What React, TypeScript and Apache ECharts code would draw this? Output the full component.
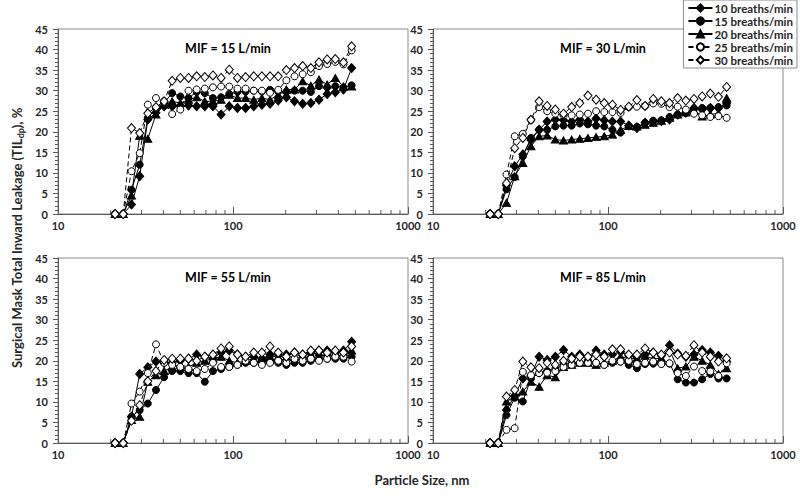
import React, { useEffect, useRef } from "react";
import * as echarts from "echarts";

// Particle sizes (nm), one per SMPS channel
const sizes = [21.2, 23.6, 26.3, 29.3, 32.6, 36.3, 40.4, 44.9, 50.0, 55.7, 62.0, 69.0, 76.8, 85.5, 95.2, 106.0, 118.0, 131.4, 146.3, 162.8, 181.3, 201.8, 224.7, 250.1, 278.5, 310.0, 345.2, 384.3, 427.8, 476.3];

// minor tick positions on the log axis
const minorTickSizes = [20, 30, 40, 50, 60, 70, 80, 90, 200, 300, 400, 500, 600, 700, 800, 900];

const breathNames = ["10 breaths/min", "15 breaths/min", "20 breaths/min", "25 breaths/min", "30 breaths/min"];
const panelTitles = ["MIF = 15 L/min", "MIF = 30 L/min", "MIF = 55 L/min", "MIF = 85 L/min"];

// MIF = 15 L/min
const mif15_b10 = [0, 0, 2.3, 9.2, 23.0, 24.6, 26.2, 26.2, 26.2, 26.4, 26.2, 26.2, 26.2, 24.2, 26.2, 25.8, 25.8, 26.2, 26.6, 26.8, 27.6, 28.4, 27.4, 26.8, 27.0, 27.8, 29.2, 29.6, 30.3, 35.5];
const mif15_b15 = [0, 0, 5.9, 12.0, 23.4, 25.8, 27.0, 29.4, 28.6, 28.2, 29.7, 29.4, 28.2, 28.4, 29.2, 29.7, 29.8, 30.0, 29.8, 30.2, 29.8, 29.7, 30.0, 30.0, 29.7, 31.1, 30.8, 31.1, 30.8, 31.3];
const mif15_b20 = [0, 0, 4.5, 19.0, 18.3, 24.2, 26.6, 27.4, 27.0, 27.8, 28.4, 27.4, 27.4, 27.8, 29.0, 28.2, 28.2, 27.8, 28.2, 27.8, 29.0, 30.3, 30.3, 32.3, 31.2, 32.7, 31.5, 33.1, 31.0, 31.0];
const mif15_b25 = [0, 0, 10.4, 14.8, 26.6, 28.2, 27.4, 24.3, 25.4, 30.0, 30.3, 30.5, 30.8, 31.0, 31.0, 30.5, 30.5, 30.0, 30.0, 29.5, 30.2, 32.5, 33.5, 34.0, 34.5, 36.0, 36.5, 37.0, 36.4, 39.8];
const mif15_b30 = [0, 0, 20.9, 19.7, 24.5, 26.0, 27.4, 32.4, 33.1, 33.1, 33.5, 33.3, 33.7, 33.1, 35.1, 33.1, 33.3, 33.5, 33.5, 33.5, 33.5, 35.0, 35.5, 36.0, 35.5, 36.9, 37.6, 37.7, 36.9, 40.8];

// MIF = 30 L/min
const mif30_b10 = [0, 0, 7.0, 11.6, 14.5, 18.0, 20.5, 22.5, 23.0, 22.8, 22.5, 23.0, 22.5, 23.2, 22.8, 22.5, 22.5, 21.5, 20.9, 22.2, 22.4, 22.6, 23.0, 24.2, 24.6, 25.8, 25.4, 25.8, 25.8, 27.0];
const mif30_b15 = [0, 0, 6.0, 9.0, 14.0, 18.5, 20.5, 20.5, 21.3, 21.5, 21.5, 22.0, 21.8, 21.5, 21.3, 20.5, 19.8, 21.4, 21.2, 22.2, 22.7, 22.8, 23.6, 24.2, 24.6, 25.6, 25.8, 25.8, 26.0, 26.4];
const mif30_b20 = [0, 0, 2.7, 9.2, 12.4, 16.5, 18.9, 19.1, 18.1, 17.9, 18.1, 18.3, 18.5, 18.7, 18.9, 19.3, 20.5, 21.4, 21.3, 21.7, 22.2, 22.7, 23.4, 24.2, 24.7, 25.2, 23.7, 24.2, 24.5, 28.2];
const mif30_b25 = [0, 0, 9.6, 18.9, 19.5, 22.9, 26.0, 25.0, 24.4, 24.0, 24.0, 24.2, 24.4, 25.0, 24.8, 24.8, 24.6, 26.0, 26.1, 26.3, 26.9, 26.8, 26.0, 26.1, 25.4, 24.4, 24.0, 23.6, 23.8, 23.4];
const mif30_b30 = [0, 0, 7.5, 16.0, 18.5, 22.9, 27.4, 26.3, 25.4, 24.4, 26.0, 27.0, 28.8, 27.8, 27.0, 26.6, 25.3, 26.1, 27.7, 26.3, 28.0, 27.4, 27.0, 28.2, 27.6, 28.0, 28.6, 29.3, 28.5, 30.9];

// MIF = 55 L/min
const mif55_b10 = [0, 0, 6.4, 16.8, 18.4, 19.8, 19.5, 19.5, 20.0, 20.5, 21.5, 21.0, 20.5, 22.0, 22.5, 21.5, 21.0, 21.0, 20.5, 21.5, 21.5, 21.5, 22.0, 21.5, 22.0, 22.5, 22.5, 22.0, 22.5, 24.6];
const mif55_b15 = [0, 0, 6.4, 8.0, 9.6, 12.9, 16.0, 17.5, 17.5, 17.0, 17.0, 14.9, 17.5, 18.0, 18.5, 19.0, 19.5, 19.5, 20.0, 20.0, 19.5, 19.0, 19.5, 19.5, 20.0, 20.5, 20.5, 20.5, 20.5, 21.0];
const mif55_b20 = [0, 0, 5.6, 6.4, 14.9, 16.5, 17.5, 18.5, 19.0, 18.5, 19.5, 20.0, 20.5, 21.0, 20.0, 19.5, 20.0, 20.5, 20.5, 21.0, 21.0, 21.0, 21.0, 21.5, 21.5, 22.0, 22.0, 22.0, 22.0, 22.5];
const mif55_b25 = [0, 0, 9.6, 12.5, 17.0, 24.0, 19.5, 19.0, 18.5, 18.0, 17.5, 18.0, 19.5, 18.5, 18.5, 19.0, 20.0, 19.5, 19.0, 19.5, 20.0, 19.5, 20.5, 20.0, 20.5, 20.0, 20.5, 21.0, 21.0, 19.8];
const mif55_b30 = [0, 0, 5.4, 9.2, 15.0, 17.5, 20.2, 20.5, 20.5, 20.5, 20.0, 21.0, 21.5, 23.0, 23.5, 21.5, 21.0, 22.0, 22.0, 23.5, 22.0, 21.0, 22.0, 21.5, 22.5, 22.5, 22.0, 22.5, 22.0, 23.5];

// MIF = 85 L/min
const mif85_b10 = [0, 0, 8.0, 11.5, 15.7, 16.5, 21.0, 20.2, 21.0, 22.6, 21.0, 21.5, 21.0, 22.5, 21.5, 21.5, 22.2, 21.2, 21.0, 21.5, 22.0, 21.2, 23.8, 21.8, 21.0, 21.5, 22.6, 22.0, 21.2, 19.8];
const mif85_b15 = [0, 0, 6.8, 11.0, 10.1, 15.7, 17.0, 17.5, 18.0, 19.0, 19.5, 19.5, 20.0, 19.5, 19.0, 19.5, 19.8, 19.0, 18.2, 19.2, 19.3, 19.3, 19.3, 15.5, 14.7, 14.7, 15.5, 16.8, 15.7, 15.7];
const mif85_b20 = [0, 0, 10.1, 11.3, 12.5, 14.9, 13.7, 16.5, 16.0, 18.5, 19.0, 19.5, 19.5, 19.0, 19.5, 20.0, 21.0, 20.5, 20.6, 21.2, 20.5, 20.6, 22.6, 18.2, 18.6, 21.0, 20.0, 19.0, 16.8, 18.2];
const mif85_b25 = [0, 0, 3.2, 3.6, 17.3, 16.5, 17.0, 17.1, 17.5, 18.5, 19.0, 19.5, 19.5, 19.5, 19.0, 20.0, 19.8, 20.0, 19.2, 19.5, 19.8, 19.2, 19.4, 17.0, 16.3, 18.6, 17.5, 17.4, 16.3, 19.4];
const mif85_b30 = [0, 0, 11.3, 12.9, 19.8, 18.4, 18.2, 19.5, 19.0, 20.0, 20.5, 21.0, 21.0, 21.5, 21.0, 22.8, 22.8, 21.5, 21.5, 23.0, 22.0, 21.5, 22.0, 21.5, 21.2, 23.8, 22.0, 21.0, 19.8, 20.6];

const panels = [
  [mif15_b10, mif15_b15, mif15_b20, mif15_b25, mif15_b30],
  [mif30_b10, mif30_b15, mif30_b20, mif30_b25, mif30_b30],
  [mif55_b10, mif55_b15, mif55_b20, mif55_b25, mif55_b30],
  [mif85_b10, mif85_b15, mif85_b20, mif85_b25, mif85_b30],
];

const FONT = 'Lato, "Open Sans", sans-serif';
const AXIS_COLOR = "#595959";
const TEXT_COLOR = "#262626";

const gridBoxes = [
  { left: 58, top: 29 },
  { left: 433, top: 29 },
  { left: 58, top: 258 },
  { left: 433, top: 258 },
];
const GRID_W = 350;
const GRID_H = 185;

const markerStyles = [
  { symbol: "diamond", symbolSize: [8, 9], fill: "#000", dash: "solid" as any },
  { symbol: "circle", symbolSize: 7, fill: "#000", dash: "solid" as any },
  { symbol: "triangle", symbolSize: [8, 7], fill: "#000", dash: "solid" as any },
  { symbol: "circle", symbolSize: 7, fill: "#fff", dash: [5, 3] as any },
  { symbol: "diamond", symbolSize: [8, 9], fill: "#fff", dash: [5, 3] as any },
];

export default function App() {
  const ref = useRef<HTMLDivElement>(null);

  useEffect(() => {
    if (!ref.current) return;
    const chart = echarts.init(ref.current, undefined, { renderer: "svg" });

    const grids = gridBoxes.map((g) => ({
      left: g.left,
      top: g.top,
      width: GRID_W,
      height: GRID_H,
      show: true,
      borderColor: "#8c8c8c",
      borderWidth: 1,
      backgroundColor: "transparent",
    }));

    const xAxes = gridBoxes.map((_, i) => ({
      type: "log",
      logBase: 10,
      min: 10,
      max: 1000,
      gridIndex: i,
      axisLine: { show: true, lineStyle: { color: AXIS_COLOR, width: 1 } },
      axisTick: { show: true, inside: true, length: 7, lineStyle: { color: AXIS_COLOR } },
      minorTick: { show: false },
      splitLine: { show: false },
      axisLabel: {
        fontFamily: FONT,
        fontWeight: "bold",
        fontSize: 11,
        color: TEXT_COLOR,
        margin: 6,
        formatter: (v: number) => String(Math.round(v)),
      },
    }));

    const yAxes = gridBoxes.map((_, i) => ({
      type: "value",
      gridIndex: i,
      min: 0,
      max: 45,
      interval: 5,
      axisLine: { show: true, lineStyle: { color: AXIS_COLOR, width: 1 } },
      axisTick: { show: true, inside: false, length: 5, lineStyle: { color: AXIS_COLOR } },
      minorTick: { show: true, splitNumber: 5, length: 3, lineStyle: { color: AXIS_COLOR } },
      splitLine: { show: false },
      axisLabel: {
        fontFamily: FONT,
        fontWeight: "bold",
        fontSize: 11,
        color: TEXT_COLOR,
        margin: 10,
      },
    }));

    const series: any[] = [];
    panels.forEach((panel, p) => {
      panel.forEach((vals, s) => {
        const st = markerStyles[s];
        series.push({
          type: "line",
          name: breathNames[s],
          xAxisIndex: p,
          yAxisIndex: p,
          data: sizes.map((x, k) => [x, vals[k]]),
          symbol: st.symbol,
          symbolSize: st.symbolSize,
          showSymbol: true,
          lineStyle: { color: "#000", width: 1, type: st.dash },
          itemStyle: { color: st.fill, borderColor: "#000", borderWidth: 1 },
          emphasis: { disabled: true },
          z: 3 + s,
        });
      });
      series.push({
        type: "custom",
        name: "minorTicks",
        xAxisIndex: p,
        yAxisIndex: p,
        silent: true,
        clip: false,
        data: minorTickSizes.map((v) => [v, 0]),
        renderItem: (_params: any, api: any) => {
          const pt = api.coord([api.value(0), api.value(1)]);
          return {
            type: "line",
            shape: { x1: pt[0], y1: pt[1], x2: pt[0], y2: pt[1] - 4 },
            style: { stroke: AXIS_COLOR, lineWidth: 1 },
          };
        },
        z: 2,
      });
    });

    const titleTexts = gridBoxes.map((g, i) => ({
      type: "text",
      x: g.left + 170,
      y: g.top + 19,
      style: {
        text: panelTitles[i],
        textAlign: "center",
        textVerticalAlign: "middle",
        fontFamily: FONT,
        fontWeight: "bold",
        fontSize: 12.5,
        fill: "#000",
      },
      z: 10,
    }));

    chart.setOption({
      animation: false,
      backgroundColor: "#fff",
      grid: grids,
      xAxis: xAxes,
      yAxis: yAxes,
      legend: {
        data: breathNames,
        orient: "vertical",
        right: 3,
        top: 0,
        padding: [2, 4, 2, 4],
        itemWidth: 24,
        itemHeight: 9,
        itemGap: 1,
        backgroundColor: "#fff",
        borderColor: "#8c8c8c",
        borderWidth: 1,
        borderRadius: 0,
        selectedMode: false,
        textStyle: {
          fontFamily: FONT,
          fontWeight: "bold",
          fontSize: 11.5,
          color: TEXT_COLOR,
          lineHeight: 12,
          padding: [0, 0, 0, -3],
        },
        z: 20,
      },
      graphic: [
        ...titleTexts,
        {
          type: "text",
          x: 17,
          y: 238,
          rotation: Math.PI / 2,
          style: {
            text: "{a|Surgical Mask Total Inward Leakage (TIL}{s|dp}{a|), %}",
            textAlign: "center",
            textVerticalAlign: "middle",
            rich: {
              a: { fontFamily: FONT, fontWeight: "bold", fontSize: 13, fill: TEXT_COLOR, lineHeight: 16 },
              s: { fontFamily: FONT, fontWeight: "bold", fontSize: 9, fill: TEXT_COLOR, lineHeight: 16, verticalAlign: "bottom" },
            },
          },
        },
        {
          type: "text",
          x: 422,
          y: 480,
          style: {
            text: "Particle Size, nm",
            textAlign: "center",
            textVerticalAlign: "middle",
            fontFamily: FONT,
            fontWeight: "bold",
            fontSize: 13,
            fill: TEXT_COLOR,
          },
        },
      ],
      series,
    } as any);

    return () => {
      chart.dispose();
    };
  }, []);

  return (
    <div
      ref={ref}
      style={{ position: "fixed", left: 0, top: 0, width: 800, height: 496, background: "#fff" }}
    />
  );
}
